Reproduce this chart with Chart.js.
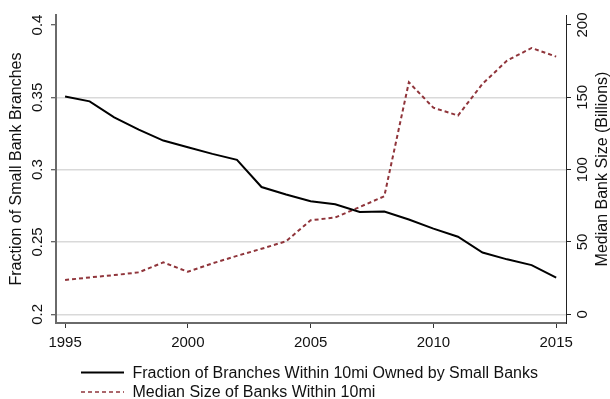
<!DOCTYPE html>
<html>
<head>
<meta charset="utf-8">
<script src="https://cdn.jsdelivr.net/npm/chart.js@4"></script>
<style>
  html, body { margin: 0; padding: 0; background: #fff; }
  #wrap { width: 610px; height: 399px; }
</style>
</head>
<body>
<div id="wrap"><canvas id="c" width="610" height="399"></canvas></div>
<script>
// Years covered by the series
const years = [1995, 1996, 1997, 1998, 1999, 2000, 2001, 2002, 2003, 2004, 2005,
               2006, 2007, 2008, 2009, 2010, 2011, 2012, 2013, 2014, 2015];

// Share of branches within 10mi owned by small banks (left axis)
const smallBankShare = [0.3505, 0.3472, 0.3362, 0.3277, 0.3201, 0.3155, 0.3109, 0.3068,
                        0.2880, 0.2828, 0.2781, 0.2761, 0.2708, 0.2710, 0.2655, 0.2592,
                        0.2536, 0.2427, 0.2380, 0.2340, 0.2253];

// Median size of banks within 10mi, billions (right axis)
const medianBankSize = [23.7, 25.5, 27.1, 29.0, 35.9, 29.4, 35.2, 40.4, 45.3, 50.5, 65.0,
                        66.9, 74.2, 81.6, 160.4, 142.8, 137.4, 159.3, 175.4, 184.1, 178.1];

const xTicks = [1995, 2000, 2005, 2010, 2015];
const leftTicks = [0.2, 0.25, 0.3, 0.35, 0.4];
const leftTickLabels = ['0.2', '0.25', '0.3', '0.35', '0.4'];
const rightTicks = [0, 50, 100, 150, 200];
const rightTickLabels = ['0', '50', '100', '150', '200'];

const seriesLabels = ['Fraction of Branches Within 10mi Owned by Small Banks',
                      'Median Size of Banks Within 10mi'];
const leftTitle = 'Fraction of Small Bank Branches';
const rightTitle = 'Median Bank Size (Billions)';

const FONT = '"Liberation Sans", Arial, Helvetica, sans-serif';
const RED = '#90353b';

// Rotated tick labels, axis titles and the stacked legend
const overlay = {
  id: 'overlay',
  afterDraw(chart) {
    const ctx = chart.ctx;
    const yl = chart.scales.y;
    const yr = chart.scales.y2;
    const area = chart.chartArea;
    ctx.save();
    ctx.fillStyle = '#111';
    ctx.textAlign = 'center';
    ctx.textBaseline = 'middle';

    const rotText = (txt, x, y, size) => {
      ctx.save();
      ctx.translate(x, y);
      ctx.rotate(-Math.PI / 2);
      ctx.font = size + 'px ' + FONT;
      ctx.fillText(txt, 0, 0);
      ctx.restore();
    };

    leftTicks.forEach((v, i) => rotText(leftTickLabels[i], 37.5, yl.getPixelForValue(v), 15));
    rightTicks.forEach((v, i) => rotText(rightTickLabels[i], 583, yr.getPixelForValue(v), 15));

    const midY = (area.top + area.bottom) / 2;
    rotText(leftTitle, 16.5, midY, 16);
    rotText(rightTitle, 602.5, midY, 16);

    // legend
    ctx.font = '16px ' + FONT;
    ctx.textAlign = 'left';
    const rows = [372.5, 392];
    chart.data.datasets.forEach((ds, i) => {
      const y = rows[i];
      ctx.save();
      ctx.strokeStyle = ds.borderColor;
      ctx.lineWidth = ds.borderDash ? 1.5 : 2;
      ctx.setLineDash(ds.borderDash ? [4, 3] : []);
      ctx.beginPath();
      ctx.moveTo(81, y);
      ctx.lineTo(124, y);
      ctx.stroke();
      ctx.restore();
      ctx.fillText(ds.label, 132.5, y + 1);
    });
    ctx.restore();
  }
};

new Chart(document.getElementById('c'), {
  type: 'line',
  data: {
    datasets: [
      {
        label: seriesLabels[0],
        data: years.map((yr, i) => ({ x: yr, y: smallBankShare[i] })),
        borderColor: '#000',
        borderWidth: 2,
        pointRadius: 0,
        tension: 0,
        yAxisID: 'y'
      },
      {
        label: seriesLabels[1],
        data: years.map((yr, i) => ({ x: yr, y: medianBankSize[i] })),
        borderColor: RED,
        borderWidth: 2,
        borderDash: [4, 3],
        pointRadius: 0,
        tension: 0,
        yAxisID: 'y2'
      }
    ]
  },
  options: {
    responsive: false,
    animation: false,
    devicePixelRatio: 1,
    layout: { padding: { top: 15, left: 0, right: 0, bottom: 0 } },
    plugins: { legend: { display: false }, tooltip: { enabled: false } },
    scales: {
      x: {
        type: 'linear',
        min: 1994.63,
        max: 2015.4,
        afterBuildTicks: s => { s.ticks = xTicks.map(v => ({ value: v })); },
        afterFit: s => { s.height = 76; },
        ticks: {
          font: { size: 15, family: FONT },
          color: '#111',
          padding: 6,
          maxRotation: 0,
          callback: v => String(v)
        },
        grid: { drawOnChartArea: false, drawTicks: true, tickLength: 5, tickColor: '#333', tickWidth: 1 },
        border: { color: '#6a6a6a', width: 2 }
      },
      y: {
        position: 'left',
        min: 0.194,
        max: 0.4069,
        afterBuildTicks: s => { s.ticks = leftTicks.map(v => ({ value: v })); },
        afterFit: s => { s.width = 56; },
        ticks: { display: false },
        grid: {
          color: c => (c.tick && c.tick.value >= 0.399 ? 'rgba(0,0,0,0)' : '#d9d9d9'),
          lineWidth: 1.5,
          drawTicks: true,
          tickLength: 5,
          tickColor: '#333',
          tickWidth: 1
        },
        border: { color: '#6a6a6a', width: 2 }
      },
      y2: {
        position: 'right',
        min: -6,
        max: 206.9,
        afterBuildTicks: s => { s.ticks = rightTicks.map(v => ({ value: v })); },
        afterFit: s => { s.width = 44; },
        ticks: { display: false },
        grid: { drawOnChartArea: false, drawTicks: true, tickLength: 5, tickColor: '#222', tickWidth: 1 },
        border: { color: '#222', width: 1 }
      }
    }
  },
  plugins: [overlay]
});
</script>
</body>
</html>
